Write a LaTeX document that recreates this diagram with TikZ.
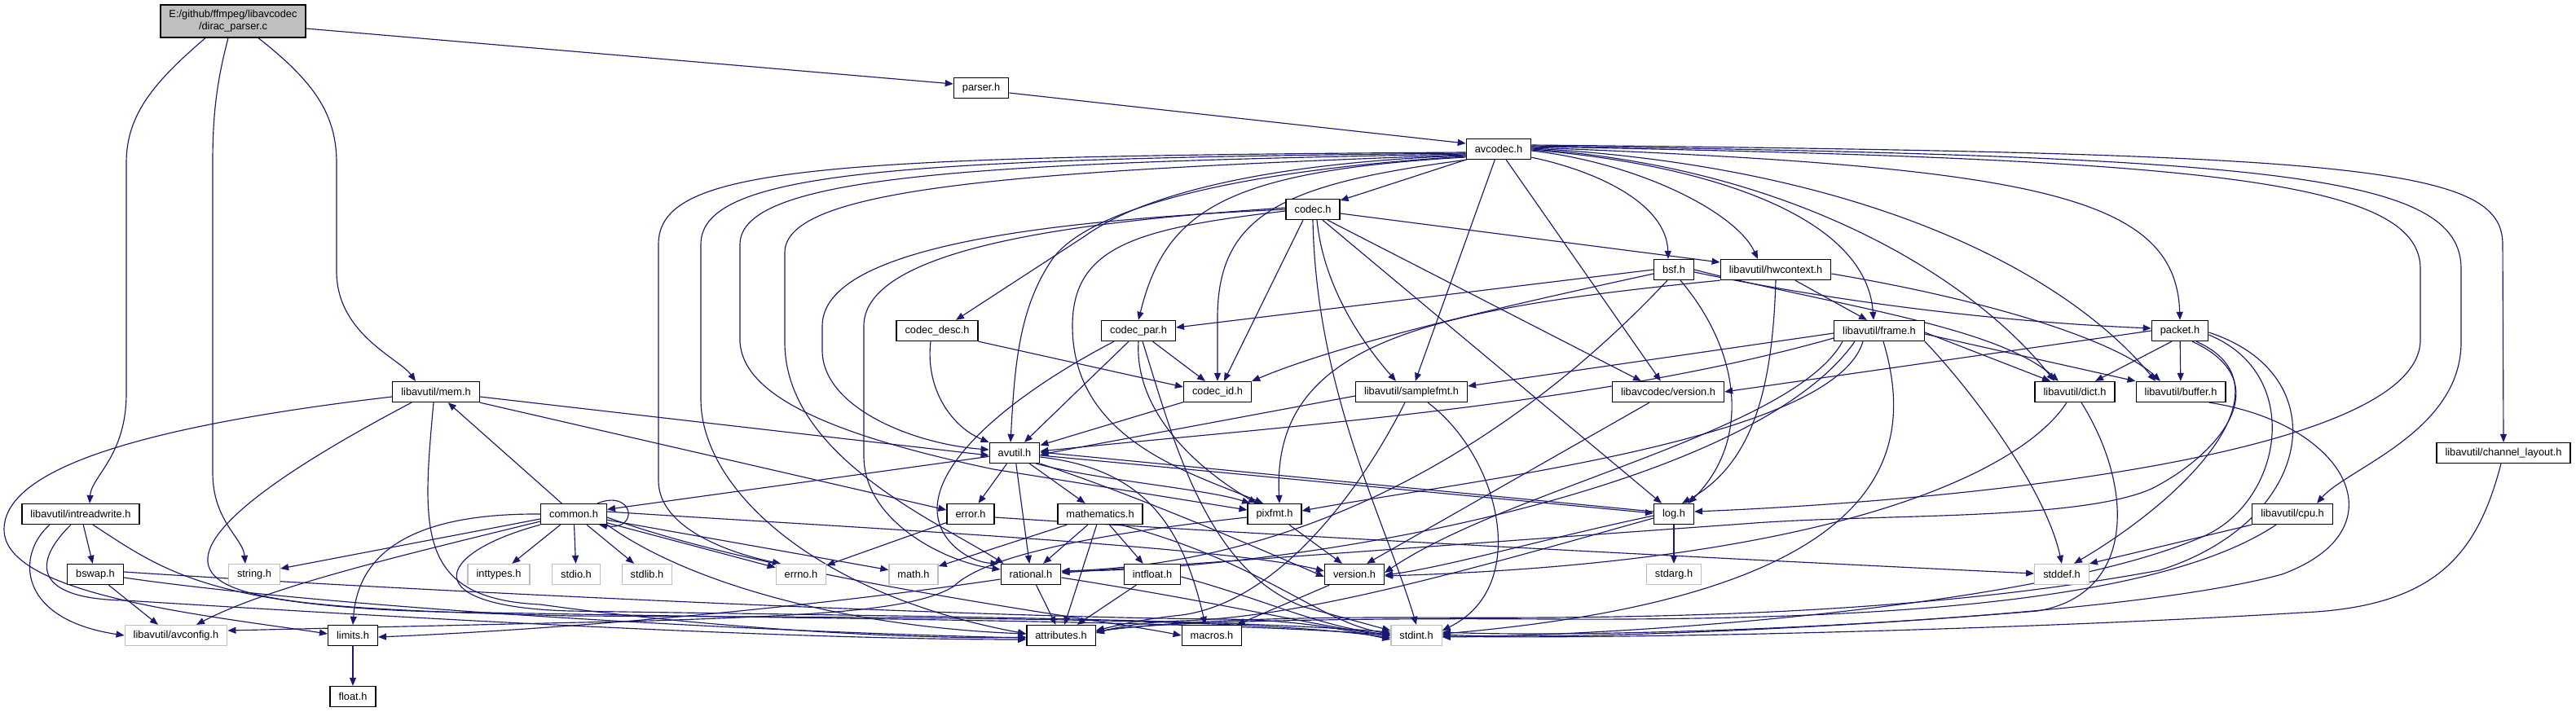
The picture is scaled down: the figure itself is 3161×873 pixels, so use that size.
\documentclass[tikz,border=0pt]{standalone}
\usepackage{fontspec}
\setmainfont{Liberation Sans}
\usetikzlibrary{arrows.meta}
\definecolor{edgeblue}{HTML}{191970}
\definecolor{nfgray}{HTML}{BFBFBF}
\pgfdeclarelayer{edges}
\pgfdeclarelayer{back}
\pgfsetlayers{back,edges,main}
\newcommand\nodefont{\fontsize{12.8}{15}\selectfont}
\tikzset{
  box/.style={draw=black, line width=1.3pt, fill=white, minimum height=25pt, inner xsep=10.5pt, inner ysep=0pt, font=\nodefont},
  gbox/.style={box, draw=nfgray},
  mainbox/.style={box, fill=nfgray, align=center, minimum height=40pt},
  ed/.style={draw=edgeblue, line width=1.15pt, -{Triangle[length=10pt,width=8pt]}},
}
\begin{document}
\begin{tikzpicture}[x=1pt,y=1pt]
\useasboundingbox (0,0) rectangle (3161,-873);
\begin{pgfonlayer}{back}
\fill[white] (0,0) rectangle (3161,-873);
\end{pgfonlayer}
% nodes
\node[mainbox] (src) at (286,-26) {E:/github/ffmpeg/libavcodec\\/dirac\_parser.c};
\node[box] (parser) at (1204,-108) {parser.h};
\node[box] (avcodec) at (1839,-183) {avcodec.h};
\node[box] (codec) at (1611,-257) {codec.h};
\node[box] (bsf) at (2054,-331) {bsf.h};
\node[box] (hwcontext) at (2179,-331) {libavutil/hwcontext.h};
\node[box] (codecdesc) at (1150,-406) {codec\_desc.h};
\node[box] (codecpar) at (1397,-406) {codec\_par.h};
\node[box] (frame) at (2306,-406) {libavutil/frame.h};
\node[box] (packet) at (2675,-406) {packet.h};
\node[box] (mem) at (535,-481) {libavutil/mem.h};
\node[box] (codecid) at (1494,-481) {codec\_id.h};
\node[box] (samplefmt) at (1732,-481) {libavutil/samplefmt.h};
\node[box] (lavcversion) at (2047,-481) {libavcodec/version.h};
\node[box] (dict) at (2546,-481) {libavutil/dict.h};
\node[box] (buffer) at (2676,-481) {libavutil/buffer.h};
\node[box] (avutil) at (1245,-556) {avutil.h};
\node[box] (chlayout) at (3072,-556) {libavutil/channel\_layout.h};
\node[box] (intreadwrite) at (99,-631) {libavutil/intreadwrite.h};
\node[box] (common) at (704,-631) {common.h};
\node[box] (error) at (1191,-631) {error.h};
\node[box] (mathematics) at (1350,-631) {mathematics.h};
\node[box] (pixfmt) at (1564,-631) {pixfmt.h};
\node[box] (log) at (2054,-631) {log.h};
\node[box] (cpu) at (2813,-631) {libavutil/cpu.h};
\node[box] (bswap) at (117,-705) {bswap.h};
\node[gbox] (string) at (312,-705) {string.h};
\node[gbox] (inttypes) at (612,-705) {inttypes.h};
\node[gbox] (stdio) at (707,-705) {stdio.h};
\node[gbox] (stdlib) at (794,-705) {stdlib.h};
\node[gbox] (errno) at (983,-705) {errno.h};
\node[gbox] (math) at (1121,-705) {math.h};
\node[box] (rational) at (1265,-705) {rational.h};
\node[box] (intfloat) at (1414,-705) {intfloat.h};
\node[box] (version) at (1662,-705) {version.h};
\node[gbox] (stdarg) at (2054,-705) {stdarg.h};
\node[gbox] (stddef) at (2530,-705) {stddef.h};
\node[gbox] (avconfig) at (216,-780) {libavutil/avconfig.h};
\node[box] (limits) at (433,-780) {limits.h};
\node[box] (attributes) at (1302,-780) {attributes.h};
\node[box] (macros) at (1487,-780) {macros.h};
\node[gbox] (stdint) at (1738,-780) {stdint.h};
\node[box] (float) at (433,-855) {float.h};

\begin{pgfonlayer}{edges}
% dirac_parser.c
\draw[ed] ([xshift=-34pt]src.south) .. controls (190,-100) and (155,-140) .. (155,-200) -- (155,-483) .. controls (155,-560) and (112,-585) .. ([xshift=11pt]intreadwrite.north);
\draw[ed] ([xshift=-6pt]src.south) .. controls (266,-100) and (261,-140) .. (261,-200) -- (261,-580) .. controls (261,-640) and (298,-660) .. ([xshift=-11pt]string.north);
\draw[ed] ([xshift=31pt]src.south) .. controls (385,-100) and (413,-140) .. (413,-200) -- (413,-333) .. controls (413,-410) and (490,-440) .. ([xshift=-25pt]mem.north);
\draw[ed] ([yshift=-9pt]src.east) -- ([yshift=5pt]parser.west);
% parser.h
\draw[ed] ([yshift=-6pt]parser.east) -- ([yshift=7pt]avcodec.west);
% avcodec.h
\draw[ed] (avcodec) -- (codec);
\draw[ed] (avcodec) -- (samplefmt);
\draw[ed] (avcodec) -- (lavcversion);
\draw[ed] ([yshift=3pt]avcodec.south east) .. controls (1960,-210) and (2045,-250) .. ([xshift=-7pt]bsf.north);
\draw[ed] ([yshift=-2pt]avcodec.east) .. controls (2010,-200) and (2130,-260) .. ([xshift=-22pt]hwcontext.north);
\draw[ed] ([yshift=-1pt]avcodec.east) .. controls (2080,-200) and (2290,-260) .. ([xshift=-7pt]frame.north);
\draw[ed] (avcodec.east) .. controls (2200,-205) and (2420,-340) .. ([xshift=-25pt]dict.north);
\draw[ed] ([yshift=1pt]avcodec.east) .. controls (2300,-205) and (2540,-340) .. ([xshift=-31pt]buffer.north);
\draw[ed] ([yshift=2pt]avcodec.east) .. controls (2500,-205) and (2670,-240) .. (packet.north);
\draw[ed] ([yshift=3pt]avcodec.east) .. controls (2700,-195) and (2970,-220) .. (2970,-330) -- (2970,-417) .. controls (2970,-560) and (2400,-615) .. ([yshift=3pt]log.east);
\draw[ed] ([yshift=4pt]avcodec.east) .. controls (2800,-192) and (3020,-215) .. (3020,-330) -- (3020,-420) .. controls (3020,-530) and (2880,-575) .. ([xshift=30pt]cpu.north);
\draw[ed] ([yshift=5pt]avcodec.east) .. controls (2900,-188) and (3071,-205) .. (3071,-300) -- (chlayout.north);
\draw[ed] ([yshift=-4pt]avcodec.west) .. controls (1000,-192) and (808,-205) .. (808,-300) -- (808,-590) .. controls (808,-650) and (900,-680) .. ([xshift=-25pt]errno.north);
\draw[ed] ([yshift=-5pt]avcodec.west) .. controls (1100,-195) and (860,-210) .. (860,-300) -- (860,-490) .. controls (860,-600) and (1000,-730) .. ([yshift=2pt]attributes.west);
\draw[ed] ([yshift=-6pt]avcodec.west) .. controls (1200,-200) and (908,-215) .. (908,-300) -- (908,-420) .. controls (912,-480) and (1000,-530) .. (1219,-576) -- ([yshift=5pt]pixfmt.west);
\draw[ed] ([yshift=-7pt]avcodec.west) .. controls (1250,-210) and (963,-230) .. (963,-310) -- (963,-420) .. controls (963,-560) and (1150,-640) .. ([xshift=4pt]rational.north west);
\draw[ed] ([yshift=-8pt]avcodec.west) .. controls (1550,-200) and (1400,-240) .. (1331,-290) -- ([xshift=23pt]codecdesc.north);
\draw[ed] ([yshift=-9pt]avcodec.west) .. controls (1500,-210) and (1330,-260) .. (1290,-320) .. controls (1250,-380) and (1245,-450) .. ([xshift=-5pt]avutil.north);
\draw[ed] ([yshift=-10pt]avcodec.west) .. controls (1500,-210) and (1430,-260) .. (codecpar.north);
\draw[ed] ([xshift=1pt]avcodec.south west) .. controls (1580,-225) and (1494,-260) .. (1494,-390) -- (codecid.north);
% codec.h
\draw[ed] (codec.south) .. controls (1615,-480) and (1700,-640) .. (stdint.north);
\draw[ed] ([xshift=5pt]codec.south) .. controls (1625,-360) and (1680,-430) .. ([xshift=-19pt]samplefmt.north);
\draw[ed] ([xshift=18pt]codec.south) -- ([xshift=-33pt]lavcversion.north);
\draw[ed] ([xshift=12pt]codec.south) -- ([xshift=-15pt]log.north);
\draw[ed] ([yshift=-5pt]codec.east) -- ([yshift=9pt]hwcontext.west);
\draw[ed] ([xshift=-12pt]codec.south) -- ([xshift=8pt]codecid.north);
\draw[ed] ([yshift=-2pt]codec.west) .. controls (1400,-280) and (1316,-300) .. (1316,-400) .. controls (1316,-540) and (1460,-580) .. ([xshift=-14pt]pixfmt.north);
\draw[ed] ([yshift=2pt]codec.west) .. controls (1350,-270) and (1060,-300) .. (1060,-400) -- (1060,-560) .. controls (1060,-640) and (1160,-690) .. ([yshift=6pt]rational.west);
\draw[ed] (codec.west) .. controls (1300,-270) and (1009,-300) .. (1009,-400) -- (1009,-430) .. controls (1009,-500) and (1120,-545) .. ([yshift=4pt]avutil.west);
% bsf.h
\draw[ed] (bsf.west) -- ([yshift=4pt]codecpar.east);
\draw[ed] ([yshift=-5pt]bsf.west) .. controls (1850,-375) and (1650,-420) .. (codecid.north east);
\draw[ed] ([xshift=8pt]bsf.south) .. controls (2135,-430) and (2150,-540) .. ([xshift=18pt]log.north);
\draw[ed] ([xshift=-8pt]bsf.south) .. controls (1900,-500) and (1650,-690) .. ([yshift=4pt]rational.east);
\draw[ed] (bsf.east) .. controls (2250,-375) and (2450,-400) .. ([xshift=-20pt]dict.north);
\draw[ed] ([yshift=-3pt]bsf.east) .. controls (2250,-370) and (2450,-395) .. ([yshift=3pt]packet.west);
% hwcontext.h
\draw[ed] ([yshift=-5pt]hwcontext.east) .. controls (2450,-370) and (2600,-420) .. ([xshift=-25pt]buffer.north);
\draw[ed] (hwcontext) -- ([xshift=-15pt]frame.north);
\draw[ed] (hwcontext.south) .. controls (2175,-480) and (2150,-570) .. ([xshift=10pt]log.north);
\draw[ed] (hwcontext.south west) .. controls (1750,-380) and (1560,-420) .. ([xshift=6pt]pixfmt.north);
% codec_desc.h
\draw[ed] ([xshift=-8pt]codecdesc.south) .. controls (1135,-480) and (1170,-525) .. (avutil.north west);
\draw[ed] (codecdesc.south east) -- ([yshift=6pt]codecid.west);
% codec_par.h
\draw[ed] ([xshift=5pt]codecpar.south) .. controls (1440,-540) and (1480,-700) .. (1600,-745) -- ([yshift=6pt]stdint.west);
\draw[ed] ([xshift=-12pt]codecpar.south) -- ([xshift=12pt]avutil.north);
\draw[ed] ([xshift=-30pt]codecpar.south) .. controls (1250,-480) and (1150,-560) .. (1150,-625) .. controls (1150,-665) and (1190,-690) .. ([xshift=-2pt]rational.north west);
\draw[ed] (codecpar.south) .. controls (1392,-500) and (1460,-570) .. ([xshift=-22pt]pixfmt.north);
\draw[ed] (codecpar) -- ([xshift=-15pt]codecid.north);
% frame.h
\draw[ed] ([yshift=-3pt]frame.west) -- ([yshift=7pt]samplefmt.east);
\draw[ed] ([yshift=-9pt]frame.west) .. controls (1950,-500) and (1550,-525) .. ([yshift=2pt]avutil.east);
\draw[ed] ([xshift=-45pt]frame.south) .. controls (2200,-530) and (1850,-600) .. ([yshift=2pt]version.east);
\draw[ed] ([xshift=-20pt]frame.south) .. controls (2250,-540) and (1800,-590) .. ([yshift=4pt]pixfmt.east);
\draw[ed] ([xshift=-30pt]frame.south) .. controls (2150,-600) and (1600,-700) .. ([yshift=4pt]rational.east);
\draw[ed] ([xshift=5pt]frame.south) .. controls (2350,-550) and (2330,-730) .. ([yshift=2pt]stdint.east);
\draw[ed] (frame.south east) .. controls (2420,-480) and (2510,-600) .. (stddef.north);
\draw[ed] ([yshift=-4pt]frame.east) -- (buffer.north west);
\draw[ed] ([yshift=-2pt]frame.east) -- ([xshift=-30pt]dict.north);
% packet.h
\draw[ed] ([xshift=20pt]packet.south) .. controls (2810,-470) and (2700,-600) .. ([xshift=15pt]stddef.north);
\draw[ed] ([yshift=-5pt]packet.east) .. controls (2830,-460) and (2800,-620) .. (2700,-660) .. controls (2500,-745) and (2000,-780) .. ([yshift=-2pt]stdint.east);
\draw[ed] ([yshift=-2pt]packet.east) .. controls (2870,-460) and (2840,-640) .. (2650,-700) .. controls (2300,-765) and (1900,-758) .. (1700,-758) .. controls (1500,-758) and (1400,-768) .. ([yshift=5pt]attributes.east);
\draw[ed] (packet) -- (buffer);
\draw[ed] ([xshift=-10pt]packet.south) -- ([xshift=25pt]dict.north);
\draw[ed] ([xshift=15pt]packet.south) .. controls (2800,-470) and (2720,-560) .. (2640,-600) .. controls (2550,-640) and (2300,-630) .. (2140,-643) .. controls (1900,-660) and (1500,-690) .. ([yshift=2pt]rational.east);
\draw[ed] (packet.west) -- (lavcversion.east);
% mem.h
\draw[ed] ([yshift=-6pt]mem.west) .. controls (200,-520) and (5,-570) .. (5,-650) .. controls (5,-730) and (250,-755) .. ([yshift=2pt]limits.west);
\draw[ed] ([xshift=-30pt]mem.south) .. controls (380,-560) and (250,-640) .. (255,-690) .. controls (260,-740) and (400,-748) .. (700,-756) .. controls (1200,-758) and (1550,-760) .. ([yshift=-3pt]stdint.west);
\draw[ed] ([xshift=-3pt]mem.south) .. controls (518,-650) and (510,-735) .. (663,-742) .. controls (900,-775) and (1150,-785) .. ([yshift=-2pt]attributes.west);
\draw[ed] (mem.south east) -- ([yshift=5pt]error.west);
\draw[ed] ([yshift=-6pt]mem.east) -- ([yshift=-3pt]avutil.west);
% codec_id.h, samplefmt.h, version
\draw[ed] (codecid) -- (avutil);
\draw[ed] ([yshift=-5pt]samplefmt.west) -- ([yshift=-2pt]avutil.east);
\draw[ed] ([xshift=20pt]samplefmt.south) .. controls (1840,-560) and (1880,-720) .. ([yshift=6pt]stdint.east);
\draw[ed] ([xshift=-8pt]samplefmt.south) .. controls (1660,-620) and (1560,-740) .. (1450,-755) .. controls (1400,-760) and (1370,-768) .. ([yshift=6pt]attributes.east);
\draw[ed] (lavcversion) -- ([xshift=15pt]version.north);
% dict.h, buffer.h, channel_layout.h, cpu.h
\draw[ed] ([xshift=-10pt]dict.south) .. controls (2480,-580) and (2250,-690) .. ([yshift=-2pt]version.east);
\draw[ed] ([xshift=8pt]dict.south) .. controls (2620,-600) and (2620,-730) .. (2500,-750) .. controls (2200,-775) and (1900,-785) .. ([yshift=1pt]stdint.east);
\draw[ed] ([xshift=35pt]buffer.south) .. controls (2880,-520) and (2950,-650) .. (2800,-705) .. controls (2600,-760) and (2000,-785) .. ([yshift=4pt]stdint.east);
\draw[ed] ([xshift=-3pt]chlayout.south) .. controls (3040,-680) and (2990,-745) .. (2824,-752) .. controls (2500,-772) and (2000,-785) .. ([yshift=-1pt]stdint.east);
\draw[ed] (cpu.south west) -- (stddef.north east);
\draw[ed] ([xshift=-20pt]cpu.south) .. controls (2650,-740) and (2300,-762) .. (1900,-760) .. controls (1600,-758) and (1400,-765) .. ([yshift=4pt]attributes.east);
% avutil.h
\draw[ed] (avutil) -- (common);
\draw[ed] (avutil) -- (error);
\draw[ed] (avutil) -- (rational);
\draw[ed] (avutil.south east) .. controls (1400,-610) and (1560,-680) .. ([yshift=-3pt]version.west);
\draw[ed] ([yshift=-5pt]avutil.east) .. controls (1400,-575) and (1450,-640) .. ([xshift=-8pt]macros.north);
\draw[ed] (avutil) -- (mathematics);
\draw[ed] ([yshift=-3pt]avutil.east) -- ([yshift=1pt]log.west);
\draw[ed] ([xshift=-5pt]avutil.south east) .. controls (1350,-590) and (1480,-600) .. ([xshift=-30pt]pixfmt.north);
% common.h
\draw[ed] (common) -- (errno);
\draw[ed] (common) -- (inttypes);
\draw[ed] (common) -- (stdio);
\draw[ed] (common) -- (stdlib);
\draw[ed] (common) -- (math);
\draw[ed] ([yshift=-6pt]common.west) -- ([yshift=7pt]string.east);
\draw[ed] ([yshift=-9pt]common.west) .. controls (500,-680) and (330,-720) .. ([xshift=25pt]avconfig.north);
\draw[ed] (common.west) .. controls (520,-630) and (440,-670) .. (limits.north);
\draw[ed] (common.south west) .. controls (530,-680) and (510,-745) .. (700,-750) .. controls (1150,-757) and (1500,-760) .. ([yshift=4pt]stdint.west);
\draw[ed] (common.south east) .. controls (850,-720) and (1050,-770) .. ([yshift=2pt]attributes.west);
\draw[ed] ([yshift=-4pt]common.east) .. controls (950,-710) and (1350,-760) .. (macros.west);
\draw[ed] ([yshift=3pt]common.east) .. controls (1000,-645) and (1500,-670) .. ([yshift=4pt]version.west);
\draw[ed] ([xshift=-12pt]common.north east) .. controls (778,-600) and (785,-652) .. ([xshift=-10pt]common.south east);
\draw[ed] (common) -- (mem);
% error.h
\draw[ed] (error) -- (errno);
\draw[ed] ([yshift=-4pt]error.east) .. controls (1600,-660) and (2200,-690) .. ([yshift=1pt]stddef.west);
% mathematics.h
\draw[ed] (mathematics) -- (math);
\draw[ed] (mathematics) -- (rational);
\draw[ed] (mathematics) -- (attributes);
\draw[ed] (mathematics) -- (intfloat);
\draw[ed] ([xshift=25pt]mathematics.south) .. controls (1550,-690) and (1620,-765) .. ([yshift=2pt]stdint.west);
% pixfmt.h
\draw[ed] ([yshift=-4pt]pixfmt.west) .. controls (1300,-660) and (1200,-690) .. (1170,-720) .. controls (1120,-750) and (1000,-755) .. (800,-762) -- ([yshift=6pt]avconfig.east);
\draw[ed] (pixfmt) -- ([xshift=-15pt]version.north);
% log.h
\draw[ed] (log) -- (stdarg);
\draw[ed] ([yshift=3pt]log.west) -- ([yshift=1pt]avutil.east);
\draw[ed] ([yshift=-5pt]log.west) .. controls (1800,-700) and (1600,-758) .. (1450,-762) .. controls (1400,-764) and (1370,-770) .. ([yshift=3pt]attributes.east);
\draw[ed] ([yshift=-2pt]log.west) .. controls (1900,-660) and (1780,-695) .. ([yshift=-1pt]version.east);
% version.h, rational.h, intfloat.h
\draw[ed] (version) -- (macros);
\draw[ed] ([yshift=-4pt]rational.east) .. controls (1500,-740) and (1600,-765) .. ([yshift=-1pt]stdint.west);
\draw[ed] ([yshift=-6pt]rational.west) .. controls (1000,-745) and (700,-772) .. ([yshift=-2pt]limits.east);
\draw[ed] (rational) -- (attributes);
\draw[ed] ([yshift=-3pt]intfloat.east) .. controls (1550,-735) and (1620,-770) .. ([yshift=1pt]stdint.west);
\draw[ed] (intfloat) -- (attributes);
% bswap.h
\draw[ed] ([yshift=3pt]bswap.east) .. controls (500,-725) and (1200,-758) .. (1500,-760) .. controls (1600,-761) and (1660,-775) .. ([yshift=-5pt]stdint.west);
\draw[ed] (bswap) -- ([xshift=-22pt]avconfig.north);
\draw[ed] ([yshift=-4pt]bswap.east) .. controls (400,-745) and (900,-775) .. ([yshift=-3pt]attributes.west);
% intreadwrite.h
\draw[ed] ([xshift=-38pt]intreadwrite.south) .. controls (20,-680) and (20,-760) .. (avconfig.west);
\draw[ed] ([xshift=-12pt]intreadwrite.south) .. controls (40,-690) and (40,-735) .. (153,-737) .. controls (600,-765) and (1000,-785) .. ([yshift=-5pt]attributes.west);
\draw[ed] (intreadwrite) -- (bswap);
\draw[ed] ([xshift=15pt]intreadwrite.south) .. controls (200,-700) and (260,-750) .. (600,-752) .. controls (1000,-760) and (1500,-762) .. ([yshift=0pt]stdint.west);
% limits.h
\draw[ed] (limits) -- (float);
\end{pgfonlayer}
\end{tikzpicture}
\end{document}
